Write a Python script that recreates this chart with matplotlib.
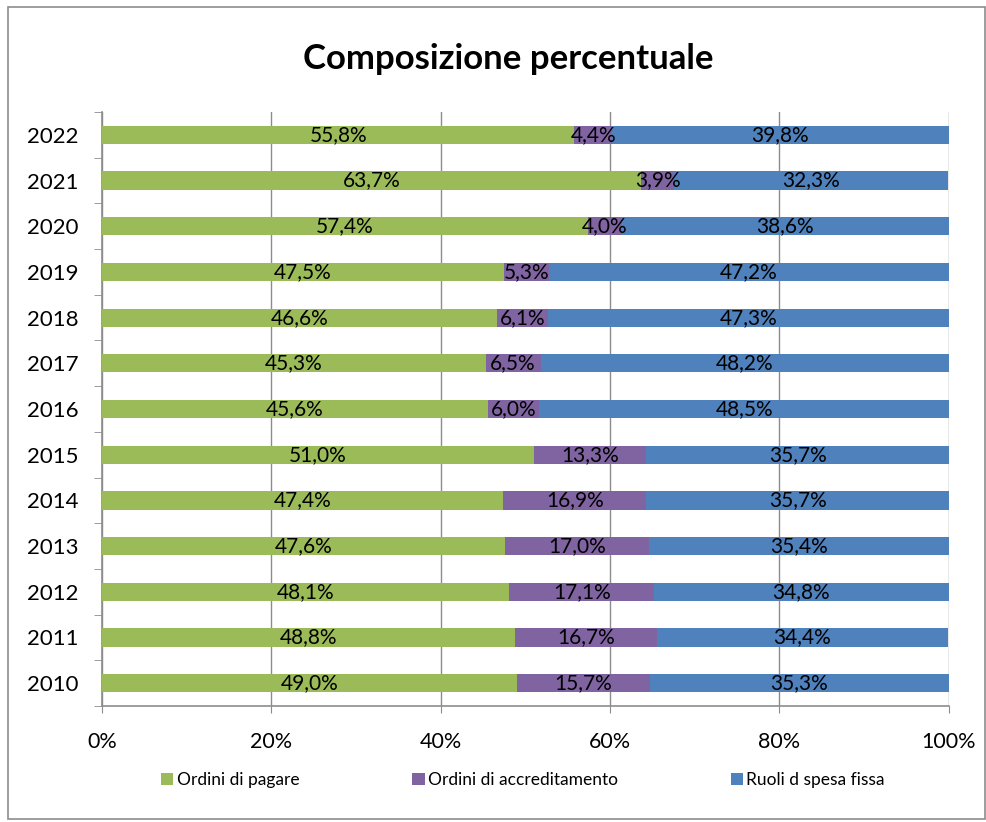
import matplotlib
matplotlib.use("Agg")
import matplotlib.pyplot as plt
import numpy as np
from matplotlib.patches import Rectangle

plt.rcParams['font.family'] = ['Lato', 'DejaVu Sans']

years = ["2010", "2011", "2012", "2013", "2014", "2015", "2016", "2017", "2018", "2019", "2020", "2021", "2022"]
ordini_pagare = [49.0, 48.8, 48.1, 47.6, 47.4, 51.0, 45.6, 45.3, 46.6, 47.5, 57.4, 63.7, 55.8]
ordini_accred = [15.7, 16.7, 17.1, 17.0, 16.9, 13.3, 6.0, 6.5, 6.1, 5.3, 4.0, 3.9, 4.4]
ruoli_spesa = [35.3, 34.4, 34.8, 35.4, 35.7, 35.7, 48.5, 48.2, 47.3, 47.2, 38.6, 32.3, 39.8]
series_names = ["Ordini di pagare", "Ordini di accreditamento", "Ruoli d spesa fissa"]
colors = ["#9BBB59", "#8064A2", "#4F81BD"]
xticks = [0, 20, 40, 60, 80, 100]

fig = plt.figure(figsize=(9.87, 8.22), dpi=100)
fig.patches.append(Rectangle((0.008, 0.004), 0.99, 0.988, transform=fig.transFigure,
                             fill=False, edgecolor="#8c8c8c", linewidth=1.2))
ax = fig.add_axes([0.1033, 0.1411, 0.858, 0.7226])

y = np.arange(len(years))
left = np.zeros(len(years))
for vals, name, c in zip([ordini_pagare, ordini_accred, ruoli_spesa], series_names, colors):
    vals = np.array(vals)
    ax.barh(y, vals, left=left, height=0.4, color=c, label=name, zorder=3)
    for yi, l, v in zip(y, left, vals):
        ax.text(l + v / 2, yi, f"{v:.1f}%".replace(".", ","), ha="center", va="center",
                fontsize=15, color="black", zorder=4)
    left = left + vals

ax.set_xlim(0, 100)
ax.set_ylim(-0.5, len(years) - 0.5)
ax.set_xticks(xticks)
ax.set_xticklabels([f"{t}%" for t in xticks], fontsize=15.5)
ax.set_yticks(y)
ax.set_yticklabels(years, fontsize=16)
ax.set_yticks(np.arange(-0.5, len(years), 1), minor=True)
ax.tick_params(axis="y", which="major", length=0, pad=17)
ax.tick_params(axis="y", which="minor", length=6, color="#8c8c8c")
ax.tick_params(axis="x", which="major", length=5, color="#8c8c8c", pad=14)
ax.grid(axis="x", color="#8c8c8c", linewidth=1.0, zorder=0)
for s in ["top", "right"]:
    ax.spines[s].set_visible(False)
for s in ["left", "bottom"]:
    ax.spines[s].set_color("#8c8c8c")
    ax.spines[s].set_linewidth(1.2)

fig.text(0.515, 0.928, "Composizione percentuale", ha="center", va="center",
         fontsize=25, fontweight="bold")

leg = fig.legend(loc="center", bbox_to_anchor=(0.53, 0.051), ncol=3, frameon=False,
                 fontsize=12.5, handlelength=0.7, handleheight=0.7, handletextpad=0.2,
                 columnspacing=6.5)

fig.savefig("out.png", dpi=100)
